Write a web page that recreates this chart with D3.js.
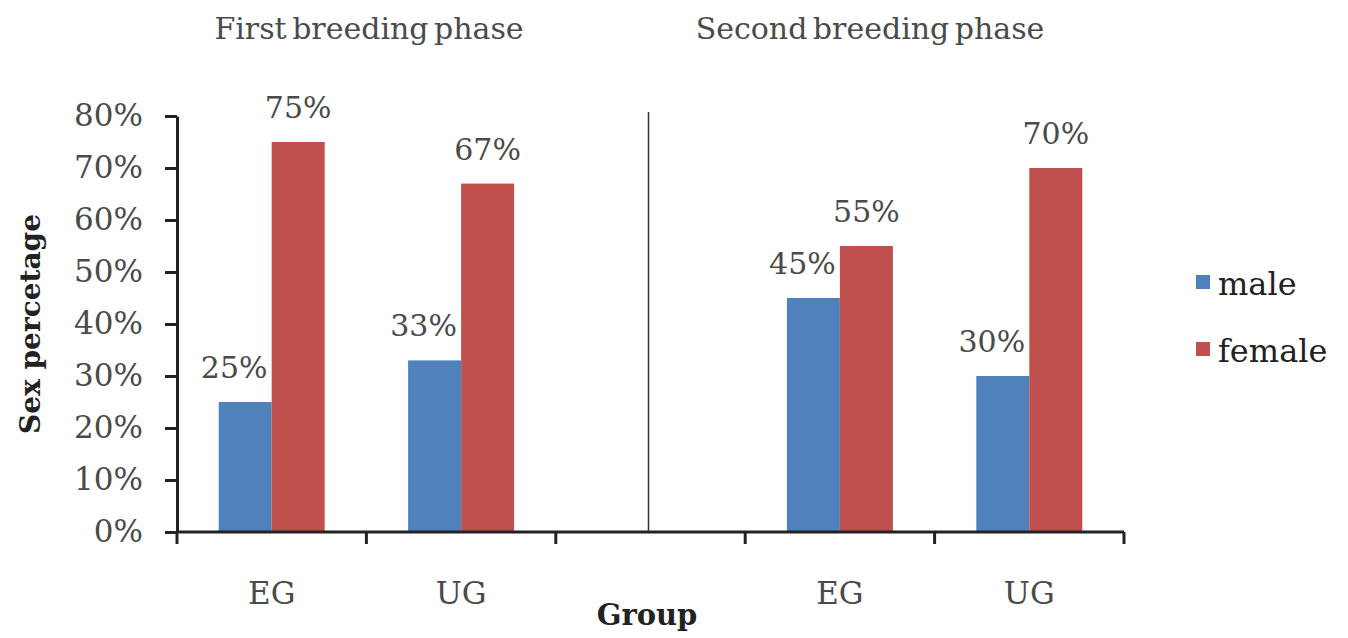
<!DOCTYPE html>
<html>
<head>
<meta charset="utf-8">
<script src="https://cdn.jsdelivr.net/npm/d3@7/dist/d3.min.js"></script>
<style>
  html, body { margin: 0; padding: 0; background: #fff; }
  svg { display: block; }
  text { font-family: "DejaVu Serif", "Liberation Serif", serif; }
</style>
</head>
<body>
<svg id="chart" width="1348" height="638"></svg>
<script>
// ---- data ----
const groupLabels = ["EG", "UG", "", "EG", "UG"];
const maleValues = [0.25, 0.33, null, 0.45, 0.30];
const femaleValues = [0.75, 0.67, null, 0.55, 0.70];
const seriesNames = ["male", "female"];
const seriesColors = ["#4F81BD", "#C0504D"];
const yTicks = [0, 0.1, 0.2, 0.3, 0.4, 0.5, 0.6, 0.7, 0.8];
const phaseTitles = ["First breeding phase", "Second breeding phase"];
const yTitle = "Sex percetage";
const xTitle = "Group";

// ---- layout ----
const plotLeft = 177, plotRight = 1124, plotTop = 116, plotBottom = 532;
const svg = d3.select("#chart");
const textColor = "#4a4a4a";

const idx = groupLabels.map((d, i) => i);
const x = d3.scaleBand().domain(idx).range([plotLeft, plotRight]).paddingInner(0).paddingOuter(0);
const bw = x.bandwidth();
const xs = d3.scaleBand().domain(seriesNames).range([0, bw]).paddingInner(0).paddingOuter(0.787);
const y = d3.scaleLinear().domain([0, 0.8]).range([plotBottom, plotTop]);

const rows = idx.map(i => ({ i, vals: [maleValues[i], femaleValues[i]] }));

// bars
const g = svg.append("g");
rows.forEach(r => {
  r.vals.forEach((v, s) => {
    if (v == null) return;
    g.append("rect")
      .attr("x", x(r.i) + xs(seriesNames[s]))
      .attr("y", y(v))
      .attr("width", xs.bandwidth())
      .attr("height", y(0) - y(v))
      .attr("fill", seriesColors[s]);
  });
});

// value labels
const labelShift = [-11, 0];
rows.forEach(r => {
  r.vals.forEach((v, s) => {
    if (v == null) return;
    g.append("text")
      .attr("x", x(r.i) + xs(seriesNames[s]) + xs.bandwidth() / 2 + labelShift[s])
      .attr("y", y(v) - 24)
      .attr("text-anchor", "middle")
      .attr("font-size", 30)
      .attr("fill", textColor)
      .text(Math.round(v * 100) + "%");
  });
});

// y axis
const yAxis = d3.axisLeft(y).tickValues(yTicks).tickFormat(d3.format(".0%"))
  .tickSize(12).tickSizeOuter(0).tickPadding(22);
const ya = svg.append("g").attr("transform", `translate(${plotLeft},0)`).call(yAxis);
ya.select(".domain").attr("stroke", "#222").attr("stroke-width", 3);
ya.selectAll(".tick line").attr("stroke", "#222").attr("stroke-width", 3);
ya.selectAll(".tick text").attr("font-size", 31).attr("fill", textColor)
  .attr("font-family", "DejaVu Serif");

// x axis: labels at band centers
const xAxis = d3.axisBottom(x).tickFormat(i => groupLabels[i]).tickSize(0).tickPadding(50);
const xa = svg.append("g").attr("transform", `translate(0,${plotBottom})`).call(xAxis);
xa.select(".domain").remove();
xa.selectAll(".tick text").attr("font-size", 31).attr("fill", textColor)
  .attr("font-family", "DejaVu Serif");

// x axis line and boundary ticks
svg.append("line").attr("x1", plotLeft).attr("x2", plotRight).attr("y1", plotBottom).attr("y2", plotBottom)
  .attr("stroke", "#222").attr("stroke-width", 3);
const bounds = idx.map(i => x(i)).concat([plotRight]);
svg.selectAll(".btick").data(bounds).enter().append("line")
  .attr("x1", d => d).attr("x2", d => d)
  .attr("y1", plotBottom).attr("y2", plotBottom + 12)
  .attr("stroke", "#222").attr("stroke-width", 3);

// separator between phases
const sepX = x(2) + bw / 2 - 2;
svg.append("line").attr("x1", sepX).attr("x2", sepX).attr("y1", 112).attr("y2", plotBottom)
  .attr("stroke", "#333").attr("stroke-width", 1.5);

// phase titles
svg.append("text").attr("x", 369).attr("y", 39).attr("text-anchor", "middle")
  .attr("font-size", 30).attr("word-spacing", -4).attr("fill", textColor).text(phaseTitles[0]);
svg.append("text").attr("x", 870).attr("y", 39).attr("text-anchor", "middle")
  .attr("font-size", 30).attr("word-spacing", -4).attr("fill", textColor).text(phaseTitles[1]);

// axis titles
svg.append("text").attr("transform", `translate(40,${(plotTop + plotBottom) / 2}) rotate(-90)`)
  .attr("text-anchor", "middle").attr("font-size", 28).attr("font-weight", "bold")
  .attr("fill", "#222").text(yTitle);
svg.append("text").attr("x", 647).attr("y", 625).attr("text-anchor", "middle")
  .attr("font-size", 29).attr("font-weight", "bold").attr("fill", "#222").text(xTitle);

// legend
const lg = svg.append("g").attr("transform", "translate(1196,275)");
seriesNames.forEach((n, s) => {
  lg.append("rect").attr("x", 0).attr("y", s * 67).attr("width", 14).attr("height", 14)
    .attr("fill", seriesColors[s]);
  lg.append("text").attr("x", 22).attr("y", s * 67 + 20).attr("font-size", 32)
    .attr("fill", "#222").text(n);
});
</script>
</body>
</html>
